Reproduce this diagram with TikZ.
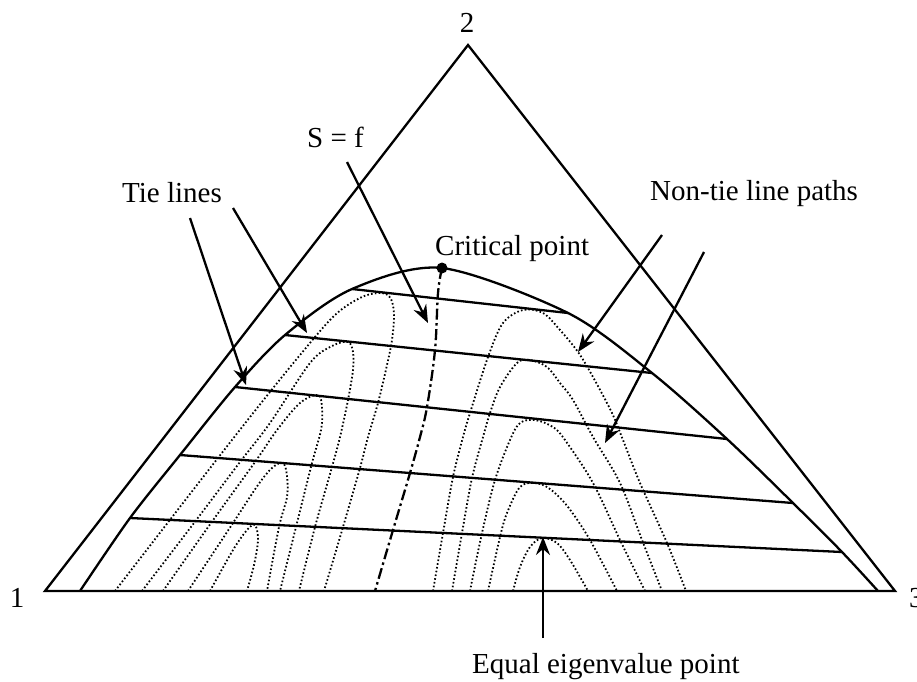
\documentclass[tikz,border=0pt]{standalone}
\usepackage{fontspec}
\setmainfont{Liberation Serif}
\usetikzlibrary{arrows.meta}
\begin{document}
\begin{tikzpicture}[x=1pt,y=-1pt,
  lbl/.style={font=\fontsize{29}{34}\selectfont, inner sep=0pt},
  solidln/.style={line width=2.3pt},
  dotln/.style={line width=1.8pt, dash pattern=on 1.6pt off 2.2pt},
  arr/.style={line width=2.3pt, -{Stealth[length=18pt,width=14pt,inset=6pt]}},
  sfline/.style={line width=2.3pt, dash pattern=on 11pt off 3.5pt on 2.5pt off 3.5pt}]
\useasboundingbox (0,0) rectangle (917,681);

% triangle
\coordinate (v1) at (45,591);
\coordinate (v2) at (468,45);
\coordinate (v3) at (895,591);
\draw[solidln, line join=miter] (v1) -- (v2) -- (v3) -- cycle;

% vertex labels
\node[lbl, anchor=base] (n1) at (17,607) {1};
\node[lbl, anchor=base] (n2) at (467,32) {2};
\node[lbl, anchor=base west] (n3) at (909,607) {3};

% binodal curve
\draw[solidln] plot[smooth, tension=0.5] coordinates {(80,591) (130,518) (180,455) (235,387) (285,335) (352,289) (442,268) (568,313) (652,373) (727,439) (793,503) (842,552) (878,591)};

% tie lines
\coordinate (t1l) at (352,289); \coordinate (t1r) at (568,313);
\coordinate (t2l) at (285,335); \coordinate (t2r) at (652,373);
\coordinate (t3l) at (235,387); \coordinate (t3r) at (727,439);
\coordinate (t4l) at (180,455); \coordinate (t4r) at (793,503);
\coordinate (t5l) at (130,518); \coordinate (t5r) at (842,552);
\draw[solidln] (t1l) -- (t1r);
\draw[solidln] (t2l) -- (t2r);
\draw[solidln] (t3l) -- (t3r);
\draw[solidln] (t4l) -- (t4r);
\draw[solidln] (t5l) -- (t5r);

% left family of non-tie-line paths
\draw[dotln] plot[smooth, tension=0.55] coordinates {(115,591) (183,503) (250,417) (300,355) (335,315) (362,297) (382,293) (391,299) (394,315) (392,340) (387,365) (378,403) (368,437) (360,468) (343,527) (324,591)};
\draw[dotln] plot[smooth, tension=0.55] coordinates {(142,591) (194,523) (240,462) (270,423) (310,363) (332,346) (348,342) (353,352) (353,370) (348,400) (340,437) (332,467) (315,527) (299,591)};
\draw[dotln] plot[smooth, tension=0.55] coordinates {(163,591) (211,523) (255,462) (277,430) (300,403) (318,395) (322,408) (321,430) (312,463) (296,527) (280,591)};
\draw[dotln] plot[smooth, tension=0.55] coordinates {(188,591) (233,523) (258,485) (272,468) (283,463) (287,476) (287,497) (279,527) (267,591)};
\draw[dotln] plot[smooth, tension=0.55] coordinates {(210,591) (233,550) (247,530) (255,525) (258,540) (254,565) (247,591)};

% right family of non-tie-line paths
\draw[dotln] plot[smooth, tension=0.55] coordinates {(433,591) (443,533) (453,477) (463,437) (470,413) (488,357) (503,323) (523,310) (543,313) (560,330) (578,352) (593,377) (612,413) (623,440) (640,483) (667,543) (686,591)};
\draw[dotln] plot[smooth, tension=0.55] coordinates {(452,591) (462,533) (472,478) (483,437) (490,413) (500,387) (517,363) (530,360) (547,367) (560,383) (573,400) (593,437) (620,483) (642,540) (662,591)};
\draw[dotln] plot[smooth, tension=0.55] coordinates {(470,591) (482,533) (495,480) (510,440) (520,423) (535,420) (553,427) (565,440) (593,483) (620,540) (645,591)};
\draw[dotln] plot[smooth, tension=0.55] coordinates {(488,591) (500,537) (507,513) (520,487) (535,483) (550,489) (568,507) (590,540) (617,591)};
\draw[dotln] plot[smooth, tension=0.55] coordinates {(513,591) (520,567) (530,547) (542,538) (557,543) (570,560) (588,591)};

% critical point and S = f curve
\node[circle, fill, inner sep=0pt, minimum size=11pt] (crit) at (442,268) {};
\draw[sfline] plot[smooth, tension=0.6] coordinates {(442,268) (438,293) (435,350) (427,407) (420,437) (410,473) (393,530) (375,591)};

% labels
\node[lbl, anchor=base west] (tielbl) at (122,202) {Tie lines};
\node[lbl, anchor=base west] (sflbl) at (307,147) {S = f};
\node[lbl, anchor=base west] (critlbl) at (435,255) {Critical point};
\node[lbl, anchor=base west] (ntlbl) at (650,200) {Non-tie line paths};
\node[lbl, anchor=base west] (eqlbl) at (472,673) {Equal eigenvalue point};

% arrows
\coordinate (ta1) at (190,218); \coordinate (th1) at (246,385);
\coordinate (ta2) at (233,208); \coordinate (th2) at (307,333);
\coordinate (sa) at (347,162); \coordinate (sh) at (428,323);
\coordinate (na1) at (662,235); \coordinate (nh1) at (578,352);
\coordinate (na2) at (704,252); \coordinate (nh2) at (605,443);
\coordinate (ea) at (543,638); \coordinate (eh) at (543,537);
\draw[arr] (ta1) -- (th1);
\draw[arr] (ta2) -- (th2);
\draw[arr] (sa) -- (sh);
\draw[arr] (na1) -- (nh1);
\draw[arr] (na2) -- (nh2);
\draw[arr] (ea) -- (eh);
\end{tikzpicture}
\end{document}
